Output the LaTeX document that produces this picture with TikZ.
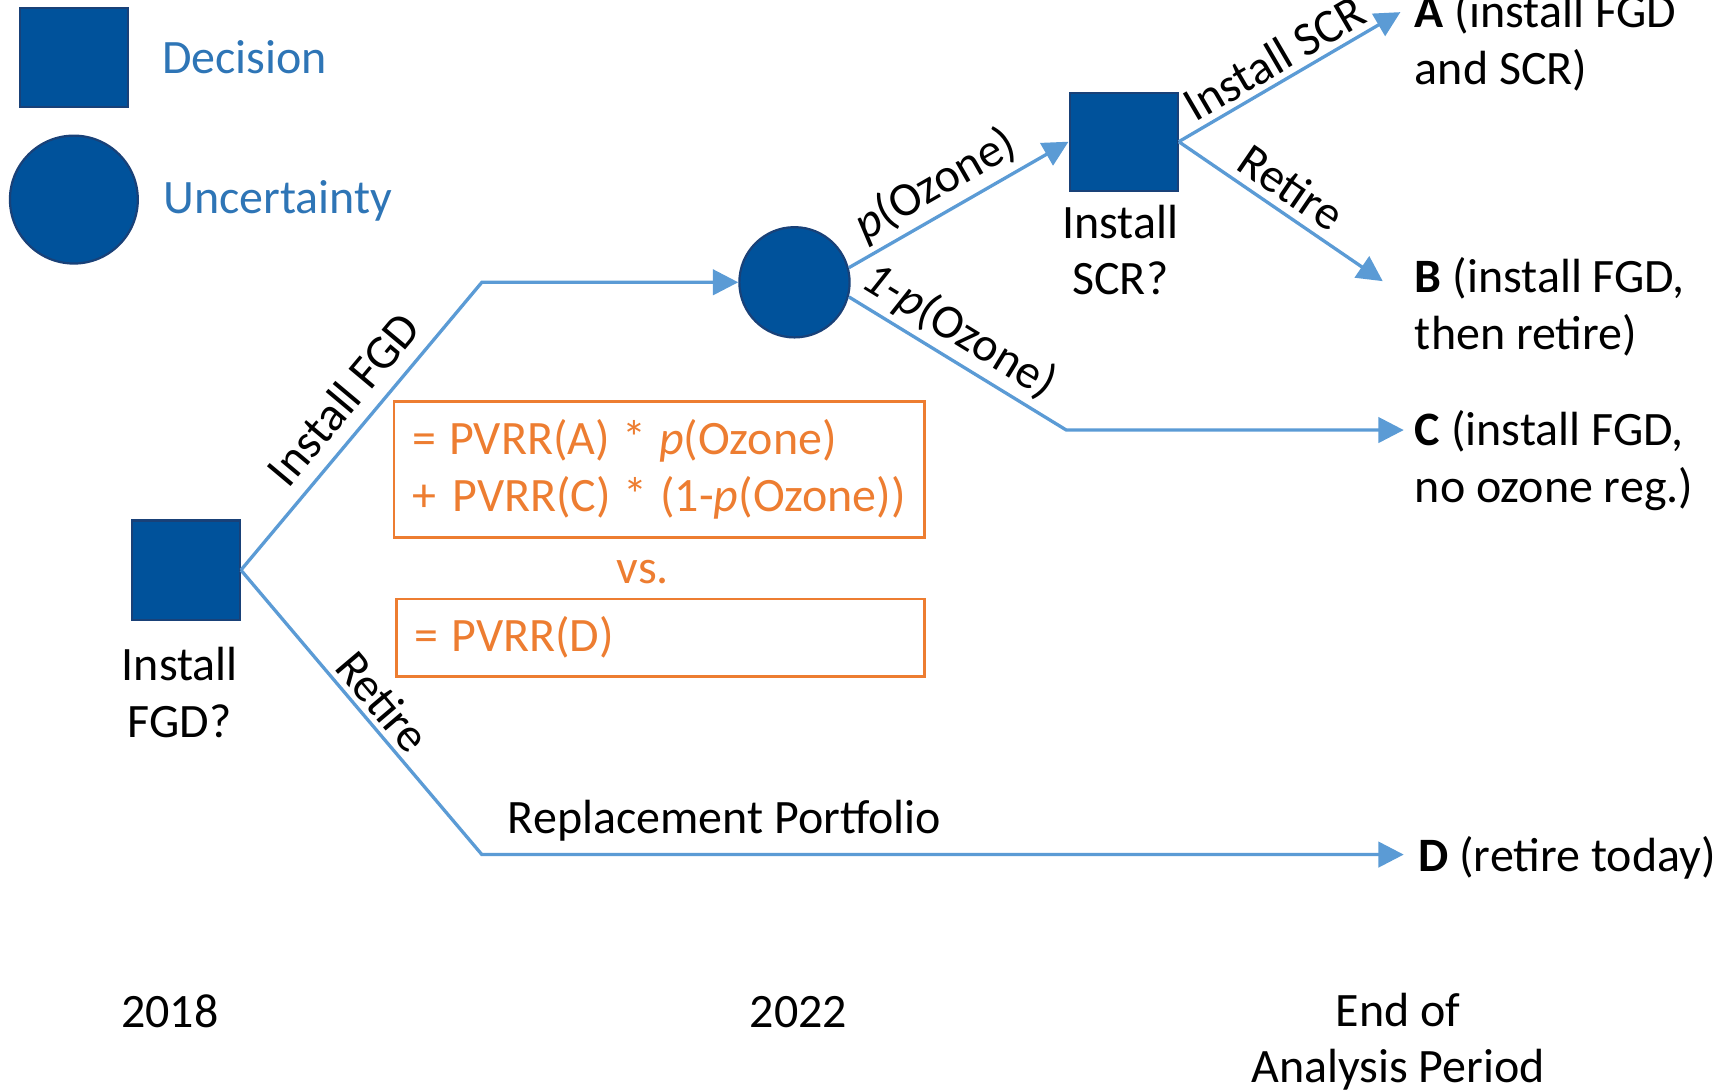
\documentclass[tikz,border=0pt]{standalone}
\usepackage{fontspec}
\setmainfont{Carlito}
\usetikzlibrary{arrows.meta}
\definecolor{navy}{RGB}{0,82,155}
\definecolor{navyline}{RGB}{25,65,120}
\definecolor{branchblue}{RGB}{91,155,213}
\definecolor{orng}{RGB}{237,125,49}
\definecolor{legblue}{RGB}{46,117,182}
\begin{document}
\begin{tikzpicture}[x=1pt,y=-1pt,
  every node/.style={font=\fontsize{43.5}{51.5}\selectfont},
  decbox/.style={draw=navyline,line width=2pt,fill=navy,minimum width=98pt,minimum height=90pt,inner sep=0pt},
  uncnode/.style={draw=navyline,line width=2pt,fill=navy,circle,minimum size=100pt,inner sep=0pt},
  br/.style={draw=branchblue,line width=3pt},
  arr/.style={br,-{Triangle[length=23pt,width=23pt]}},
  lbl/.style={inner sep=0pt,align=center},
  slbl/.style={inner sep=2pt,sloped},
  endlbl/.style={inner sep=0pt,anchor=base west,align=left},
  calc/.style={draw=orng,line width=2.5pt,text=orng,align=left,inner xsep=17pt,inner ysep=0pt,anchor=north west}
]
\useasboundingbox (0,0) rectangle (1568,990);

% legend
\node[decbox] (legdec) at (67,52) {};
\node[uncnode,minimum size=116pt] (legunc) at (67,181) {};
\node[inner sep=0pt,anchor=base west,text=legblue] (legdectxt) at (147,66.5) {Decision};
\node[inner sep=0pt,anchor=base west,text=legblue] (leguntxt) at (148,194) {Uncertainty};

% tree nodes (multi-line labels: base = baseline of last line)
\node[decbox] (root) at (168.5,517) {};
\node[lbl,anchor=base] (rootlbl) at (163,668.5) {Install\\FGD?};
\node[uncnode] (chance) at (720.5,256) {};
\node[decbox,minimum height=89pt] (scr) at (1019,128.5) {};
\node[lbl,anchor=base] (scrlbl) at (1016,267.5) {Install\\SCR?};

\coordinate (k1) at (437,256);
\coordinate (k2) at (437,775);
\coordinate (k3) at (967,390);
\coordinate (endA) at (1270,11);
\coordinate (endB) at (1254,255);
\coordinate (endC) at (1273,390);
\coordinate (endD) at (1273,775);

% connectors
\draw[arr] (root.east) -- node[slbl,above=10pt,pos=0.525] (lblfgd) {Install FGD} (k1) -- (chance.west);
\draw[arr] (root.east) -- node[slbl,above=2.5pt,pos=0.515] (lblret) {Retire} (k2) -- (endD);
\draw[arr] (chance.15) -- node[slbl,above=3pt,pos=0.46] (lblp) {\textit{p}(Ozone)} (scr.west);
\draw[arr] (chance.-15) -- node[slbl,above=3pt,pos=0.44] (lblq) {\textit{1-p}(Ozone)} (k3) -- (endC);
\draw[arr] (scr.east) -- node[slbl,above=3pt,pos=0.485] (lblscr) {Install SCR} (endA);
\draw[arr] (scr.east) -- node[slbl,above=5pt,pos=0.48] (lblret2) {Retire} (endB);

\node[inner sep=0pt,anchor=base] (repl) at (657,756) {Replacement Portfolio};

% outcomes
\node[endlbl] (outA) at (1283,76.5) {\textbf{A} (install FGD\\and SCR)};
\node[endlbl] (outB) at (1283,316.5) {\textbf{B} (install FGD,\\then retire)};
\node[endlbl] (outC) at (1283,455.5) {\textbf{C} (install FGD,\\no ozone reg.)};
\node[endlbl] (outD) at (1286,790) {\textbf{D} (retire today)};

% calculation boxes
\node[calc,text width=447pt,minimum height=123pt] (calc1) at (356,363)
  {\mbox{=\kern-3pt{} PVRR(A)\kern-3pt{} *\kern-3pt{} \textit{p}(Ozone)}\\\mbox{+ PVRR(C)\kern-3pt{} *\kern-3pt{} (1-\textit{p}(Ozone))}};
\node[inner sep=0pt,anchor=base,text=orng] (vs) at (583,529) {vs.};
\node[calc,text width=445pt,minimum height=70pt] (calc2) at (358,542) {\mbox{=\kern-3pt{} PVRR(D)}};

% time axis
\node[inner sep=0pt,anchor=base] (t1) at (154,931.5) {2018};
\node[inner sep=0pt,anchor=base] (t2) at (724,931.5) {2022};
\node[lbl,anchor=base] (t3) at (1268,982) {End of\\Analysis Period};
\end{tikzpicture}
\end{document}
